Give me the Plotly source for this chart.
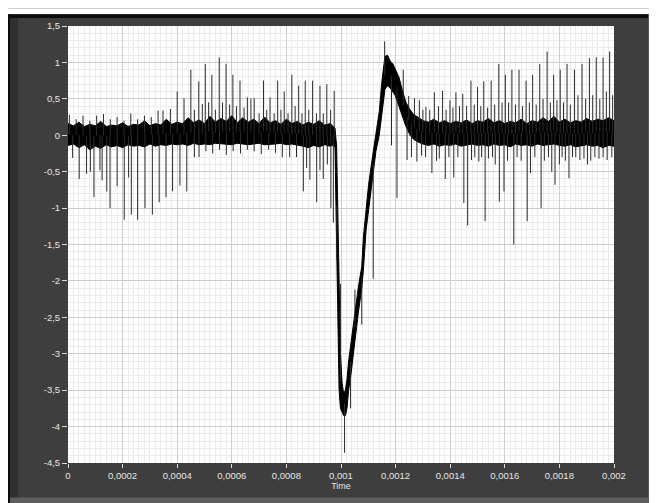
import numpy as np
import plotly.graph_objects as go

# ---------------- data ----------------
# noise band (upper / lower envelope) before the event, sampled every 0.00002 s
pre_t = [i * 2e-5 for i in range(49)]
pre_hi = [0.16, 0.13, 0.18, 0.12, 0.15, 0.13, 0.19, 0.12, 0.14, 0.13,
          0.17, 0.12, 0.15, 0.14, 0.20, 0.13, 0.16, 0.14, 0.22, 0.15,
          0.18, 0.16, 0.24, 0.17, 0.21, 0.16, 0.26, 0.18, 0.23, 0.19,
          0.27, 0.17, 0.24, 0.18, 0.22, 0.16, 0.25, 0.17, 0.20, 0.15,
          0.22, 0.16, 0.19, 0.14, 0.18, 0.15, 0.20, 0.14, 0.16]
pre_lo = [-0.14, -0.12, -0.17, -0.13, -0.20, -0.15, -0.18, -0.13, -0.16, -0.14,
          -0.17, -0.13, -0.15, -0.14, -0.16, -0.12, -0.15, -0.13, -0.14, -0.12,
          -0.13, -0.12, -0.14, -0.11, -0.13, -0.12, -0.13, -0.11, -0.12, -0.12,
          -0.13, -0.11, -0.12, -0.13, -0.12, -0.11, -0.13, -0.12, -0.12, -0.11,
          -0.13, -0.12, -0.14, -0.15, -0.17, -0.14, -0.16, -0.13, -0.15]

# the event (drop to about -3.8 and overshoot to about +1.1)
dip_t = [0.000970, 0.000978, 0.000984, 0.000988, 0.000993, 0.000998, 0.001004,
         0.001010, 0.001016, 0.001022, 0.001028, 0.001036, 0.001044, 0.001054,
         0.001063, 0.001076, 0.001082, 0.001092, 0.001101, 0.001116, 0.001128,
         0.001140, 0.001150, 0.001161, 0.001170, 0.001180, 0.001190, 0.001198,
         0.001212, 0.001226, 0.001238, 0.001253, 0.001267, 0.001286]
dip_hi = [0.13, 0.10, -0.15, -1.0, -2.0, -3.0, -3.4, -3.55, -3.5, -3.35,
          -3.1, -2.85, -2.6, -2.35, -2.1, -1.8, -1.4, -1.0, -0.68, -0.28,
          0.0, 0.32, 0.75, 1.08, 1.1, 1.02, 0.98, 0.92, 0.8, 0.6,
          0.45, 0.35, 0.28, 0.24]
dip_lo = [-0.14, -0.16, -1.3, -2.4, -3.5, -3.75, -3.8, -3.85, -3.85, -3.75,
          -3.5, -3.3, -3.05, -2.75, -2.45, -2.1, -1.85, -1.3, -1.0, -0.58,
          -0.22, 0.0, 0.3, 0.63, 0.68, 0.65, 0.6, 0.55, 0.4, 0.26,
          0.12, 0.0, -0.06, -0.1]

# noise band after the event, sampled every 0.00002 s
post_t = [0.0013 + i * 2e-5 for i in range(36)]
post_hi = [0.20, 0.18, 0.22, 0.17, 0.20, 0.16, 0.19, 0.17, 0.21, 0.16,
           0.20, 0.18, 0.23, 0.17, 0.20, 0.16, 0.19, 0.17, 0.22, 0.16,
           0.20, 0.18, 0.24, 0.19, 0.26, 0.18, 0.22, 0.17, 0.20, 0.18,
           0.23, 0.19, 0.22, 0.20, 0.24, 0.20]
post_lo = [-0.12, -0.14, -0.12, -0.15, -0.13, -0.14, -0.12, -0.15, -0.13, -0.12,
           -0.14, -0.13, -0.15, -0.12, -0.14, -0.13, -0.16, -0.12, -0.14, -0.13,
           -0.15, -0.12, -0.14, -0.13, -0.12, -0.14, -0.15, -0.13, -0.16, -0.14,
           -0.13, -0.15, -0.14, -0.17, -0.14, -0.15]

# upward spikes (time, tip value)
up_t = [0.000005, 0.00003, 0.000055, 0.00008, 0.000105, 0.00013, 0.000155, 0.00018,
        0.000205, 0.00023, 0.000255, 0.00028, 0.000305, 0.00033, 0.000348, 0.000375,
        0.0004, 0.000425, 0.00045, 0.000463, 0.000479, 0.000492, 0.000503, 0.000515,
        0.000527, 0.00054, 0.000554, 0.000566, 0.000579, 0.000592, 0.000604, 0.000617,
        0.00063, 0.000645, 0.000657, 0.00067, 0.000682, 0.0007, 0.000716, 0.000728,
        0.00074, 0.000755, 0.000768, 0.00078, 0.000792, 0.000806, 0.00082, 0.000832,
        0.000845, 0.000857, 0.000869, 0.000882, 0.000896, 0.00091, 0.000923, 0.000935,
        0.000948, 0.000962, 0.000975,
        0.000998, 0.001051, 0.00116,
        0.001228, 0.001248, 0.001269, 0.001287, 0.0013, 0.001311, 0.001325, 0.001342,
        0.001357, 0.001372, 0.001385, 0.001399, 0.00141, 0.001421, 0.001434, 0.001446,
        0.00146, 0.001476, 0.001488, 0.0015, 0.001512, 0.001523, 0.001537, 0.00155,
        0.001563, 0.001578, 0.00159, 0.001602, 0.001614, 0.001626, 0.001639, 0.001652,
        0.001665, 0.001678, 0.00169, 0.001702, 0.001715, 0.001728, 0.00174, 0.001755,
        0.001767, 0.001779, 0.001791, 0.001803, 0.001815, 0.001828, 0.00184, 0.001855,
        0.001868, 0.001883, 0.001896, 0.00191, 0.001922, 0.001935, 0.001948, 0.00196,
        0.001972, 0.001984, 0.001995]
up_v = [0.28, 0.22, 0.27, 0.20, 0.27, 0.29, 0.22, 0.25,
        0.20, 0.30, 0.22, 0.27, 0.25, 0.34, 0.34, 0.36,
        0.60, 0.51, 0.90, 0.35, 0.74, 0.43, 0.98, 0.45,
        0.83, 0.35, 1.07, 0.45, 0.98, 0.42, 0.83, 0.40,
        0.75, 0.38, 0.52, 0.50, 0.51, 0.30, 0.75, 0.35,
        0.52, 0.30, 0.75, 0.35, 0.60, 0.30, 0.83, 0.40,
        0.68, 0.30, 0.75, 0.35, 0.75, 0.30, 0.68, 0.30,
        0.70, 0.35, 0.61,
        -2.04, -2.12, 1.29,
        0.90, 0.54, 0.51, 0.48, 0.35, 0.39, 0.35, 0.59,
        0.40, 0.61, 0.35, 0.48, 0.38, 0.59, 0.40, 0.57,
        0.40, 0.75, 0.42, 0.66, 0.40, 0.74, 0.38, 0.75,
        0.42, 0.98, 0.45, 0.83, 0.45, 0.90, 0.42, 0.90,
        0.40, 0.75, 0.45, 0.83, 0.42, 0.98, 0.50, 1.15,
        0.45, 0.83, 0.48, 0.90, 0.45, 0.98, 0.42, 0.90,
        0.55, 0.98, 0.50, 1.06, 0.55, 1.07, 0.50, 1.07,
        0.60, 1.15, 0.55]

# downward spikes (time, tip value)
down_t = [0.000017, 0.000041, 0.000068, 0.000082, 0.000095, 0.000117, 0.000125, 0.000142,
          0.000154, 0.00018, 0.000206, 0.000222, 0.000232, 0.000255, 0.000282, 0.000309,
          0.000334, 0.000359, 0.000383, 0.00041, 0.000435, 0.000463, 0.00048, 0.000505,
          0.00053, 0.000555, 0.00058, 0.000605, 0.000632, 0.000657, 0.000682, 0.000708,
          0.000735, 0.00076, 0.000785, 0.000812, 0.000837, 0.000862, 0.000874, 0.000886,
          0.000911, 0.000923, 0.000935, 0.00095, 0.000963, 0.000972, 0.000985,
          0.001013, 0.001035, 0.001076, 0.001118,
          0.001185, 0.001205, 0.001242, 0.001258, 0.001278, 0.001295, 0.00131, 0.001333,
          0.00135, 0.00136, 0.001382, 0.001395, 0.001413, 0.001428, 0.00145, 0.001464,
          0.001478, 0.00149, 0.001505, 0.001515, 0.001528, 0.00154, 0.001555, 0.001565,
          0.00158, 0.001597, 0.00161, 0.001633, 0.001645, 0.00166, 0.001682, 0.001694,
          0.00171, 0.001733, 0.001745, 0.00176, 0.001772, 0.001784, 0.0018, 0.00181,
          0.001822, 0.001835, 0.001848, 0.00186, 0.001875, 0.00189, 0.001903, 0.001915,
          0.00193, 0.001945, 0.00196, 0.001975, 0.001992]
down_v = [-0.31, -0.60, -0.53, -0.50, -0.85, -0.48, -0.62, -0.77,
          -1.00, -0.70, -1.16, -0.58, -1.09, -1.16, -1.00, -1.09,
          -0.92, -0.85, -0.77, -0.69, -0.77, -0.30, -0.30, -0.22,
          -0.25, -0.20, -0.27, -0.22, -0.25, -0.20, -0.22, -0.26,
          -0.20, -0.24, -0.30, -0.30, -0.30, -0.77, -0.45, -0.61,
          -0.92, -0.48, -0.60, -0.40, -1.00, -1.20, -1.70,
          -4.36, -3.75, -2.60, -1.97,
          -0.14, -0.86, -0.34, -0.30, -0.36, -0.28, -0.30, -0.52,
          -0.35, -0.32, -0.60, -0.30, -0.58, -0.30, -0.93, -1.24,
          -0.34, -0.30, -0.36, -0.30, -1.18, -0.32, -0.30, -0.40,
          -0.91, -0.77, -0.35, -1.50, -0.30, -0.35, -1.18, -0.52,
          -0.30, -1.00, -0.35, -0.30, -0.50, -0.68, -0.40, -0.30,
          -0.35, -0.59, -0.30, -0.30, -0.34, -0.32, -0.40, -0.35,
          -0.30, -0.32, -0.30, -0.34, -0.30]

x_tick_vals = [0, 0.0002, 0.0004, 0.0006, 0.0008, 0.001, 0.0012, 0.0014, 0.0016, 0.0018, 0.002]
x_tick_text = ["0", "0,0002", "0,0004", "0,0006", "0,0008", "0,001", "0,0012",
               "0,0014", "0,0016", "0,0018", "0,002"]
y_tick_vals = [1.5, 1, 0.5, 0, -0.5, -1, -1.5, -2, -2.5, -3, -3.5, -4, -4.5]
y_tick_text = ["1,5", "1", "0,5", "0", "-0,5", "-1", "-1,5", "-2", "-2,5", "-3",
               "-3,5", "-4", "-4,5"]

# ---------------- build figure ----------------
band_t = np.array(pre_t + dip_t + post_t)
band_hi = np.array(pre_hi + dip_hi + post_hi)
band_lo = np.array(pre_lo + dip_lo + post_lo)
band_mid = (band_hi + band_lo) / 2

fig = go.Figure()

fig.add_trace(go.Scatter(
    x=np.concatenate([band_t, band_t[::-1]]),
    y=np.concatenate([band_hi, band_lo[::-1]]),
    fill="toself", fillcolor="#000000", mode="lines",
    line=dict(color="#000000", width=1), hoverinfo="skip", showlegend=False))

sx, sy = [], []
for t, v in list(zip(up_t, up_v)) + list(zip(down_t, down_v)):
    base = float(np.interp(t, band_t, band_mid))
    sx += [t, t, None]
    sy += [base, v, None]
fig.add_trace(go.Scatter(x=sx, y=sy, mode="lines",
                         line=dict(color="#2a2a2a", width=1),
                         hoverinfo="skip", showlegend=False))

# the page puts the figure 8 px from the top-left corner of the window
OFF = 8
W, H = 657 - OFF, 503 - OFF
L, R, T, B = 68 - OFF, 657 - 614, 21 - OFF, 503 - 463
pw, ph = W - L - R, H - T - B


def xp(px):  # figure pixel -> paper fraction
    return (px - L) / pw


def yp(py):
    return (H - B - py) / ph


shapes = [
    # white line on top (continues the page margin)
    dict(type="rect", xref="paper", yref="paper", x0=xp(-5), x1=xp(W + 5),
         y0=yp(1), y1=yp(-5), fillcolor="#ffffff", line_width=0),
    # black top border
    dict(type="rect", xref="paper", yref="paper", x0=xp(-5), x1=xp(W - 9),
         y0=yp(5), y1=yp(1), fillcolor="#0c0c0c", line_width=0),
    # black left border
    dict(type="rect", xref="paper", yref="paper", x0=xp(-5), x1=xp(2),
         y0=yp(H + 5), y1=yp(1), fillcolor="#0c0c0c", line_width=0),
    # darker strip on the left
    dict(type="rect", xref="paper", yref="paper", x0=xp(2), x1=xp(10),
         y0=yp(490), y1=yp(5), fillcolor="#2f2f2f", line_width=0),
    # lighter bevel on the right
    dict(type="rect", xref="paper", yref="paper", x0=xp(W - 9), x1=xp(W + 5),
         y0=yp(H + 5), y1=yp(1), fillcolor="#565656", line_width=0),
    # lighter bevel at the bottom
    dict(type="rect", xref="paper", yref="paper", x0=xp(2), x1=xp(W + 5),
         y0=yp(H + 5), y1=yp(490), fillcolor="#5e5e5e", line_width=0),
]

font_family = "Liberation Sans, Arial, sans-serif"
fig.update_layout(
    width=W, height=H,
    margin=dict(l=L, r=R, t=T, b=B),
    paper_bgcolor="#3e3e3e", plot_bgcolor="#ffffff",
    showlegend=False,
    shapes=shapes,
    font=dict(family=font_family, color="#e6e6e6", size=9),
)
fig.update_xaxes(
    range=[0, 0.002], tickvals=x_tick_vals, ticktext=x_tick_text,
    ticks="outside", ticklen=4, tickcolor="#dcdcdc", tickwidth=1,
    tickfont=dict(size=9.5, color="#e6e6e6", family=font_family),
    showgrid=True, gridcolor="#cdcdcd", gridwidth=1, zeroline=False,
    showline=False,
    minor=dict(dtick=0.00002, showgrid=True, gridcolor="#ebebeb", gridwidth=1),
    title=dict(text="Time", font=dict(size=9, color="#e6e6e6"), standoff=1),
)
fig.update_yaxes(
    range=[-4.5, 1.5], tickvals=y_tick_vals, ticktext=y_tick_text,
    ticks="outside", ticklen=5, tickcolor="#dcdcdc", tickwidth=1,
    tickfont=dict(size=9.5, color="#e6e6e6", family=font_family),
    showgrid=True, gridcolor="#cdcdcd", gridwidth=1, zeroline=False,
    showline=False,
    minor=dict(dtick=0.1, showgrid=True, gridcolor="#ebebeb", gridwidth=1),
)

fig.write_html("out.html")
